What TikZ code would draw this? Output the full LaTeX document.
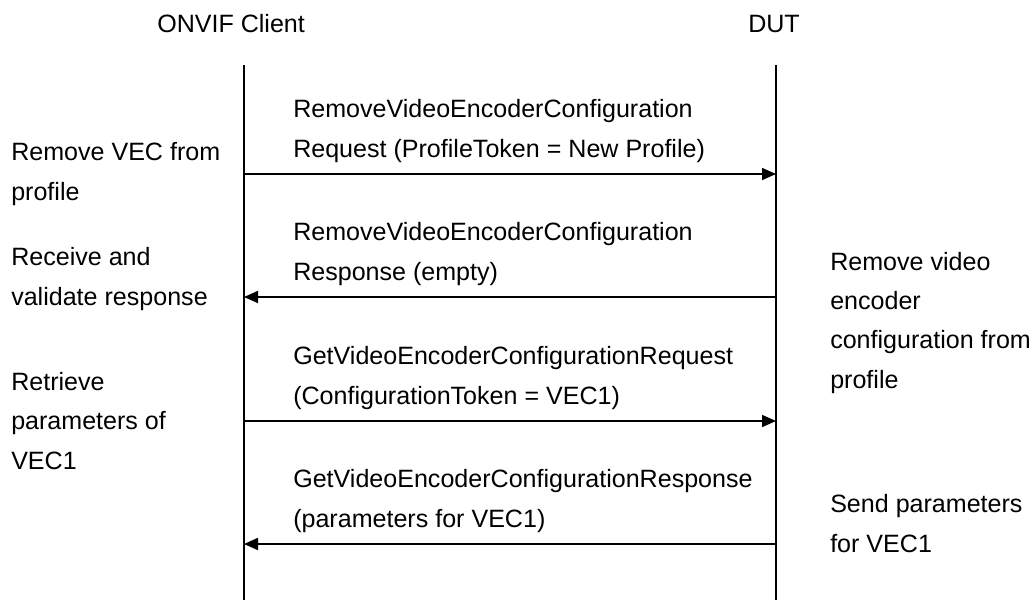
\documentclass[tikz,border=0pt]{standalone}
\usepackage{fontspec}
\setmainfont{Liberation Sans}
\usetikzlibrary{positioning, arrows.meta}
\tikzset{
    lifeline/.style={draw=black, line width=1.2pt},
    msg/.style={draw=black, line width=1.2pt, -{Triangle[length=10.5pt, width=9pt]}},
    txt/.style={anchor=base west, inner sep=0pt, align=left, font=\fontsize{18.8}{29.4}\selectfont}
}

\begin{document}
\begin{tikzpicture}[x=0.75pt, y=-0.75pt]
\useasboundingbox (0,0) rectangle (1035,600);

% Headings
\node[txt] (client) at (157,32) {ONVIF Client};
\node[txt] (dut) at (748,32) {DUT};

% Lifelines
\coordinate (c0) at (244,65);
\coordinate (c9) at (244,600);
\coordinate (d0) at (776,65);
\coordinate (d9) at (776,600);
\draw[lifeline] (c0) -- (c9);
\draw[lifeline] (d0) -- (d9);

% Message ends
\coordinate (c1) at (244,174);
\coordinate (d1) at (776,174);
\coordinate (c2) at (244,297);
\coordinate (d2) at (776,297);
\coordinate (c3) at (244,421);
\coordinate (d3) at (776,421);
\coordinate (c4) at (244,544);
\coordinate (d4) at (776,544);

% Remove request
\draw[msg] (c1) -- (d1);
\node[txt] (m1) at (293,157) {RemoveVideoEncoderConfiguration\\Request (ProfileToken = New Profile)};

% Remove response
\draw[msg] (d2) -- (c2);
\node[txt] (m2) at (293,280) {RemoveVideoEncoderConfiguration\\Response (empty)};

% Get request
\draw[msg] (c3) -- (d3);
\node[txt] (m3) at (293,404) {GetVideoEncoderConfigurationRequest\\(ConfigurationToken = VEC1)};

% Get response
\draw[msg] (d4) -- (c4);
\node[txt] (m4) at (293,527) {GetVideoEncoderConfigurationResponse\\(parameters for VEC1)};

% Client notes
\node[txt] (n1) at (11,200) {Remove VEC from\\profile};
\node[txt] (n2) at (11,305) {Receive and\\validate response};
\node[txt] (n3) at (11,469) {Retrieve\\parameters of\\VEC1};

% DUT notes
\node[txt] (n4) at (830,388) {Remove video\\encoder\\configuration from\\profile};
\node[txt] (n5) at (830,552) {Send parameters\\for VEC1};

\end{tikzpicture}
\end{document}
